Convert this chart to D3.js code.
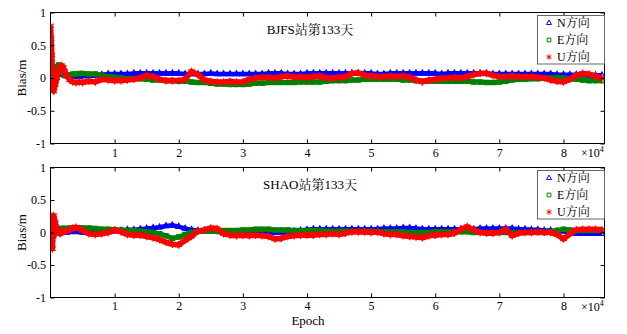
<!DOCTYPE html>
<html>
<head>
<meta charset="utf-8">
<script src="https://cdn.jsdelivr.net/npm/d3@7"></script>
<style>
  body { margin: 0; background: #fff; }
  svg { display: block; }
  text { font-family: "Liberation Serif", "Times New Roman", "Noto Serif CJK SC", "Noto Sans CJK SC", serif; fill: #000; }
</style>
</head>
<body>
<svg id="chart" width="627" height="334"></svg>
<script>
// Sample epochs (s): dense during filter convergence, then every 1000 s
const epochs = [0, 100, 200, 300, 400, 500, 750, 1000, 1250, 1500, 1750, 2000, 2250, 2500, 3000, 3500, 4000, 4500, 5000]
  .concat(d3.range(6000, 87000, 1000));

const xTicks = [10000, 20000, 30000, 40000, 50000, 60000, 70000, 80000];
const yTicks = [-1, -0.5, 0, 0.5, 1];
const seriesNames = ["N方向", "E方向", "U方向"];

// BJFS, day 133 — positioning bias (m)
const bjfsN = [-0.12,-0.08,-0.05,-0.03,0.00,0.02,0.04,0.05,0.06,0.06,0.06,0.05,0.04,0.03,0.02,0.02,0.02,0.02,0.03,
  0.03,0.04,0.05,0.06,0.06,0.06,0.06,0.07,0.07,0.07,
  0.07,0.07,0.07,0.07,0.07,0.06,0.06,0.06,0.06,0.07,
  0.06,0.06,0.06,0.06,0.06,0.06,0.06,0.06,0.07,0.07,
  0.07,0.06,0.06,0.06,0.07,0.07,0.07,0.07,0.07,0.07,
  0.07,0.07,0.07,0.07,0.07,0.06,0.06,0.07,0.07,0.07,
  0.07,0.07,0.07,0.07,0.07,0.06,0.07,0.07,0.07,0.07,
  0.07,0.07,0.07,0.06,0.06,0.06,0.06,0.06,0.06,0.06,
  0.06,0.06,0.06,0.05,0.05,0.05,0.05,0.05,0.04,0.04,
  0.04];
const bjfsE = [-0.18,-0.17,-0.16,-0.10,-0.05,0.00,0.10,0.17,0.20,0.16,0.10,0.06,0.04,0.04,0.05,0.06,0.06,0.07,0.07,
  0.06,0.06,0.04,0.02,0.01,0.00,-0.01,-0.01,-0.01,-0.02,
  -0.03,-0.03,-0.04,-0.04,-0.05,-0.05,-0.06,-0.07,-0.07,-0.08,
  -0.09,-0.09,-0.10,-0.10,-0.10,-0.09,-0.08,-0.08,-0.07,-0.07,
  -0.07,-0.07,-0.07,-0.06,-0.06,-0.06,-0.06,-0.05,-0.04,-0.04,
  -0.04,-0.03,-0.03,-0.02,-0.02,-0.02,-0.02,-0.02,-0.02,-0.03,
  -0.03,-0.04,-0.05,-0.05,-0.05,-0.05,-0.05,-0.05,-0.05,-0.05,
  -0.06,-0.06,-0.07,-0.07,-0.06,-0.05,-0.03,-0.02,-0.02,-0.01,
  -0.01,0.00,0.00,0.00,0.00,-0.01,-0.02,-0.03,-0.04,-0.04,
  -0.04];
const bjfsU = [0.80,0.60,0.35,0.10,-0.12,-0.20,-0.10,0.00,0.10,0.17,0.19,0.16,0.10,0.04,-0.03,-0.06,-0.07,-0.06,-0.07,
  -0.05,-0.06,-0.02,-0.03,-0.04,-0.04,-0.03,-0.02,0.00,0.04,
  0.02,-0.02,-0.04,-0.04,-0.04,-0.02,0.10,0.05,-0.03,-0.05,
  -0.06,-0.06,-0.05,-0.06,-0.06,-0.02,0.00,0.01,0.01,0.00,
  0.02,0.03,0.01,0.02,0.01,0.02,0.03,0.00,0.00,0.01,
  0.02,0.07,0.08,0.04,0.03,0.02,0.02,0.03,0.02,0.03,
  0.01,-0.03,-0.06,-0.03,-0.02,0.00,0.00,0.01,0.00,0.02,
  0.05,0.07,0.07,0.04,0.02,0.02,0.03,0.02,0.02,0.02,
  0.01,0.00,-0.03,-0.05,-0.06,-0.02,0.04,0.07,0.06,0.03,
  -0.01];

// SHAO, day 133 — positioning bias (m)
const shaoN = [-0.15,-0.12,-0.10,-0.06,-0.03,0.00,0.01,0.00,0.00,0.00,0.00,0.00,0.00,0.00,0.01,0.01,0.01,0.01,0.00,
  0.00,0.00,0.01,0.01,0.02,0.03,0.04,0.04,0.05,0.06,
  0.07,0.08,0.10,0.11,0.09,0.06,0.04,0.03,0.02,0.02,
  0.01,0.00,0.00,0.00,0.00,-0.01,-0.01,-0.01,-0.01,0.00,
  0.00,0.01,0.02,0.03,0.04,0.05,0.05,0.05,0.05,0.05,
  0.05,0.05,0.05,0.05,0.05,0.05,0.06,0.06,0.06,0.07,
  0.07,0.06,0.05,0.05,0.05,0.05,0.05,0.05,0.05,0.05,
  0.05,0.06,0.06,0.06,0.06,0.06,0.06,0.05,0.05,0.04,
  0.04,0.03,0.03,0.02,0.02,0.00,-0.02,-0.02,-0.02,-0.02,
  -0.02];
const shaoE = [-0.05,0.00,0.05,0.02,-0.03,-0.05,0.00,0.04,0.05,0.06,0.06,0.06,0.06,0.06,0.07,0.07,0.07,0.07,0.07,
  0.07,0.06,0.05,0.05,0.04,0.04,0.03,0.03,0.02,0.01,
  0.00,-0.02,-0.05,-0.09,-0.07,-0.03,0.00,0.02,0.02,0.02,
  0.02,0.03,0.03,0.03,0.04,0.04,0.05,0.05,0.05,0.04,
  0.04,0.04,0.03,0.03,0.03,0.03,0.03,0.02,0.02,0.02,
  0.02,0.02,0.02,0.02,0.02,0.01,0.01,0.01,0.01,0.01,
  0.00,0.00,0.00,0.00,0.01,0.01,0.01,0.01,0.01,0.01,
  0.00,0.00,0.00,0.00,0.00,0.00,0.00,0.00,0.00,0.00,
  0.00,0.00,0.01,0.03,0.05,0.04,0.03,0.03,0.03,0.03,
  0.03];
const shaoU = [-0.10,0.10,0.25,-0.25,0.15,0.26,0.15,0.05,0.00,-0.02,0.00,0.02,0.03,0.02,0.04,0.07,0.08,0.06,0.03,
  -0.02,-0.03,-0.02,0.00,0.04,0.01,-0.03,-0.04,-0.04,-0.06,
  -0.08,-0.11,-0.15,-0.18,-0.19,-0.12,-0.06,0.02,0.04,0.07,
  0.06,-0.02,-0.04,-0.05,-0.04,-0.05,-0.04,-0.05,-0.06,-0.10,
  -0.09,-0.06,-0.05,-0.04,-0.04,-0.04,-0.03,-0.03,-0.02,-0.03,
  -0.01,0.01,0.01,0.01,0.00,0.01,-0.02,-0.03,-0.03,-0.05,
  -0.06,-0.07,-0.08,-0.05,-0.04,-0.03,-0.03,-0.01,0.05,0.09,
  0.04,0.00,-0.01,-0.01,0.00,0.05,-0.05,-0.01,0.00,0.00,
  0.01,0.00,0.00,-0.03,-0.10,-0.02,0.04,0.05,0.05,0.05,
  0.04];

const panels = [
  { title: "BJFS站第133天", top: 12.5, bottom: 143.5, series: [bjfsN, bjfsE, bjfsU], titleY: 34 },
  { title: "SHAO站第133天", top: 167.5, bottom: 297.5, series: [shaoN, shaoE, shaoU], titleY: 189 }
];

const styles = [
  { color: "#0000ff", symbol: d3.symbolTriangle2, size: 24, width: 4.6 },
  { color: "#008000", symbol: d3.symbolSquare2, size: 24, width: 5.0 },
  { color: "#ff0000", symbol: d3.symbolAsterisk, size: 40, width: 5.6 }
];

const svg = d3.select("#chart");
const left = 50.5, right = 604.5;
const x = d3.scaleLinear().domain([0, 86400]).range([left, right]);

panels.forEach((p, pi) => {
  const y = d3.scaleLinear().domain([-1, 1]).range([p.bottom, p.top]);
  const g = svg.append("g");

  const clipId = "clip" + pi;
  svg.append("clipPath").attr("id", clipId)
    .append("rect").attr("x", left).attr("y", p.top).attr("width", right - left).attr("height", p.bottom - p.top);

  const plot = g.append("g").attr("clip-path", `url(#${clipId})`);
  const line = d3.line().x((d, i) => x(epochs[i])).y(d => y(d));

  p.series.forEach((vals, si) => {
    const st = styles[si];
    plot.append("path").datum(vals)
      .attr("d", line)
      .attr("fill", "none")
      .attr("stroke", st.color)
      .attr("stroke-width", st.width)
      .attr("stroke-linejoin", "round");
    const sym = d3.symbol().type(st.symbol).size(st.size);
    plot.append("g").selectAll("path").data(vals).join("path")
      .attr("transform", (d, i) => `translate(${x(epochs[i])},${y(d)})`)
      .attr("d", sym)
      .attr("fill", "none")
      .attr("stroke", st.color)
      .attr("stroke-width", 1.2);
  });

  // axes with inward ticks on all four sides
  const fmt = d => String(d);
  g.append("g").attr("transform", `translate(0,${p.bottom})`)
    .call(d3.axisBottom(x).tickValues(xTicks).tickFormat(d => d / 10000).tickSizeInner(-4).tickSizeOuter(0).tickPadding(pi === 0 ? 5 : 4))
    .call(a => a.select(".domain").remove());
  g.append("g").attr("transform", `translate(0,${p.top})`)
    .call(d3.axisTop(x).tickValues(xTicks).tickFormat("").tickSizeInner(-4).tickSizeOuter(0))
    .call(a => a.select(".domain").remove());
  g.append("g").attr("transform", `translate(${left},0)`)
    .call(d3.axisLeft(y).tickValues(yTicks).tickFormat(fmt).tickSizeInner(-4).tickSizeOuter(0).tickPadding(4.5))
    .call(a => a.select(".domain").remove());
  g.append("g").attr("transform", `translate(${right},0)`)
    .call(d3.axisRight(y).tickValues(yTicks).tickFormat("").tickSizeInner(-4).tickSizeOuter(0))
    .call(a => a.select(".domain").remove());
  g.selectAll(".tick text").attr("font-size", 12)
    .attr("font-family", '"Liberation Serif","Times New Roman",serif');
  g.selectAll(".tick line").attr("stroke", "#000");

  g.append("rect").attr("x", left).attr("y", p.top)
    .attr("width", right - left).attr("height", p.bottom - p.top)
    .attr("fill", "none").attr("stroke", "#000").attr("stroke-width", 1);

  // exponent label
  const ex = g.append("text").attr("x", 581).attr("y", p.bottom + 13.5).attr("font-size", 12);
  ex.append("tspan").text("×10");
  ex.append("tspan").attr("dy", -5).attr("font-size", 8).text("4");

  // title
  g.append("text").attr("x", 310).attr("y", p.titleY).attr("text-anchor", "middle")
    .attr("font-size", 13).text(p.title);

  // y label
  g.append("text")
    .attr("transform", `translate(26,${(p.top + p.bottom) / 2}) rotate(-90)`)
    .attr("text-anchor", "middle").attr("font-size", 13).text("Bias/m");

  // legend
  const lt = p.top + 3;
  const lg = g.append("g");
  lg.append("rect").attr("x", 537.5).attr("y", lt).attr("width", 67).attr("height", 48.5)
    .attr("fill", "#fff").attr("stroke", "#666").attr("stroke-width", 1);
  seriesNames.forEach((name, si) => {
    const st = styles[si];
    const ry = lt + 7.5 + si * 17;
    lg.append("path")
      .attr("transform", `translate(549,${ry})`)
      .attr("d", d3.symbol().type(st.symbol).size(si === 2 ? 22 : 18)())
      .attr("fill", "none").attr("stroke", st.color).attr("stroke-width", 1);
    lg.append("text").attr("x", 557).attr("y", ry).attr("dy", "0.35em")
      .attr("font-size", 12).text(name);
  });
});

// shared x label
svg.append("text").attr("x", 308).attr("y", 325).attr("text-anchor", "middle")
  .attr("font-size", 13).text("Epoch");
</script>
</body>
</html>
